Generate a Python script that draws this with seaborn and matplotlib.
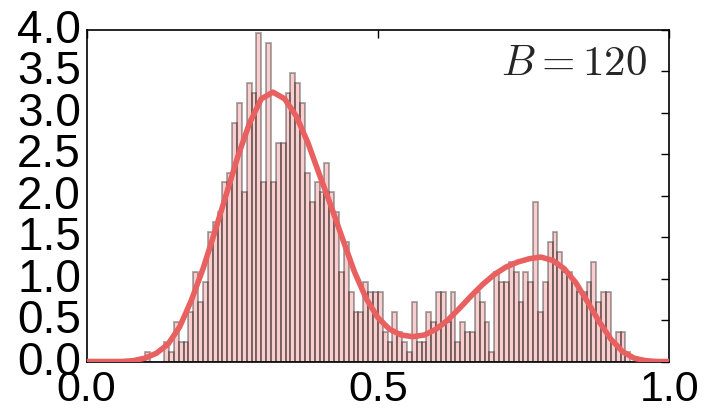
import numpy as np
import pandas as pd
import matplotlib
matplotlib.use('Agg')
import matplotlib.pyplot as plt
import matplotlib.transforms as mtransforms
import seaborn as sns

# ============================================================
# DATA
# 120 bins on [0, 1], bar heights as density
# ============================================================
N_BINS = 120
bin_heights = (
    [0.0] * 12 +
    [0.12, 0.00, 0.00, 0.00, 0.24, 0.12, 0.48, 0.24, 0.24, 0.60,
     1.08, 0.72, 0.96, 1.56, 1.68, 1.80, 2.16, 2.28, 2.88, 3.12,
     2.04, 3.36, 3.24, 3.96, 2.16, 3.84, 2.16, 2.64, 2.64, 3.24,
     3.48, 3.36, 3.12, 2.28, 1.92, 2.16, 2.04, 2.40, 2.04, 1.80,
     1.08, 1.44, 0.84, 0.60, 0.60, 0.96, 0.84, 0.84, 0.84, 0.36,
     0.24, 0.60, 0.36, 0.24, 0.12, 0.72, 0.24, 0.24, 0.60, 0.48,
     0.84, 0.84, 0.48, 0.84, 0.24, 0.48, 0.36, 0.36, 0.84, 0.72,
     0.48, 0.12, 1.08, 0.96, 0.96, 1.20, 1.08, 0.72, 1.08, 0.96,
     1.92, 0.60, 0.96, 1.44, 1.56, 1.32, 1.08, 1.08, 0.96, 0.84,
     0.84, 0.96, 1.20, 0.72, 0.84, 0.84, 0.24, 0.36, 0.36, 0.12,
     0.00] +
    [0.0] * 7
)

# smooth density curve
curve_x = [0.00, 0.02, 0.04, 0.06, 0.08, 0.10, 0.12, 0.14, 0.16, 0.18,
           0.20, 0.22, 0.24, 0.26, 0.28, 0.30, 0.32, 0.34, 0.36, 0.38,
           0.40, 0.42, 0.44, 0.46, 0.48, 0.50, 0.52, 0.54, 0.56, 0.58,
           0.60, 0.62, 0.64, 0.66, 0.68, 0.70, 0.72, 0.74, 0.76, 0.78,
           0.80, 0.82, 0.84, 0.86, 0.88, 0.90, 0.92, 0.94, 0.96, 0.98,
           1.00]
curve_y = [0.00, 0.00, 0.00, 0.00, 0.01, 0.04, 0.10, 0.21, 0.42, 0.74,
           1.12, 1.56, 2.02, 2.48, 2.88, 3.17, 3.25, 3.17, 2.96, 2.64,
           2.25, 1.87, 1.47, 1.08, 0.76, 0.53, 0.39, 0.32, 0.30, 0.32,
           0.39, 0.50, 0.64, 0.79, 0.93, 1.05, 1.14, 1.20, 1.24, 1.26,
           1.22, 1.12, 0.95, 0.72, 0.48, 0.27, 0.12, 0.04, 0.01, 0.00,
           0.00]

LABEL = r'$B=120$'
X_TICKS = [0.0, 0.5, 1.0]
Y_TICKS = [0.0, 0.5, 1.0, 1.5, 2.0, 2.5, 3.0, 3.5, 4.0]

# ============================================================
# PLOT
# ============================================================
sns.set_style("white")
plt.rcParams['font.family'] = ['Liberation Sans', 'DejaVu Sans']
plt.rcParams['mathtext.fontset'] = 'cm'

RED = '#e8605f'

fig = plt.figure(figsize=(7.07, 4.11), dpi=100)
ax = fig.add_axes([0.1224, 0.1204, 0.824, 0.8066])

centers = (np.arange(N_BINS) + 0.5) / N_BINS
hist_df = pd.DataFrame({'x': centers, 'h': bin_heights})

sns.histplot(data=hist_df, x='x', weights='h', bins=N_BINS, binrange=(0, 1),
             stat='count', color=RED, alpha=0.3, edgecolor=(0, 0, 0, 0.35),
             linewidth=1.3, ax=ax)
sns.lineplot(x=curve_x, y=curve_y, color=RED, linewidth=4, ax=ax, zorder=5)

ax.text(0.962, 0.864, LABEL, transform=ax.transAxes, ha='right', va='baseline',
        fontsize=31)

ax.set_xlim(0, 1)
ax.set_ylim(0, 4)
ax.set_xticks(X_TICKS)
ax.set_yticks(Y_TICKS)
ax.set_xlabel('')
ax.set_ylabel('')
ax.tick_params(direction='in', length=6, width=1, top=True, right=True,
               colors='k')
ax.tick_params(axis='x', labelsize=31, pad=6)
ax.tick_params(axis='y', labelsize=33, pad=4)
for sp in ax.spines.values():
    sp.set_color('k')
    sp.set_linewidth(1.2)

# y labels sit a little above their ticks in the reference
lift = mtransforms.ScaledTranslation(0, 4 / 100, fig.dpi_scale_trans)
for lab in ax.get_yticklabels():
    lab.set_transform(lab.get_transform() + lift)

fig.savefig('out.png', dpi=100)
